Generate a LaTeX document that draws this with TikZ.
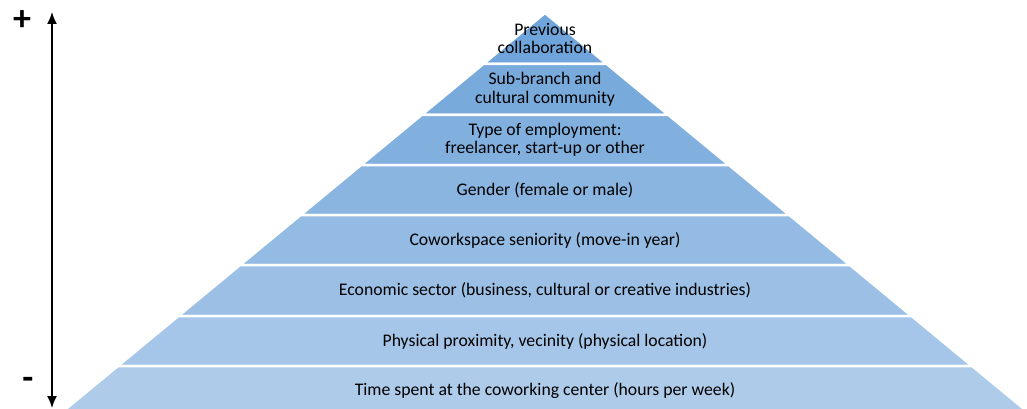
\documentclass[tikz,border=0pt]{standalone}
\usepackage{fontspec}
\setmainfont{Carlito}
\usetikzlibrary{arrows.meta}
\definecolor{bandtop}{HTML}{6FA5DA}
\definecolor{bandbot}{HTML}{AECBEA}
\tikzset{
  band/.style={draw=white, line width=2.5pt, line join=round},
  layer/.style={align=center, font=\fontsize{17.7}{18.5}\selectfont, text=black, inner sep=0pt},
  sign/.style={font=\bfseries\fontsize{36}{36}\selectfont, inner sep=0pt}
}
\begin{document}
\begin{tikzpicture}[x=1pt,y=-1pt]
  \useasboundingbox (0,0) rectangle (1027,409);
  % pyramid, layers from the top down
  \foreach \i/\ya/\yb/\txt [evaluate=\i as \pct using {100*(\i-1)/7}] in {
      1/13/64/{Previous\\collaboration},
      2/64/115/{Sub-branch and\\cultural community},
      3/115/165/{Type of employment:\\freelancer, start-up or other},
      4/165/215/{Gender (female or male)},
      5/215/265/{Coworkspace seniority (move-in year)},
      6/265/316/{Economic sector (business, cultural or creative industries)},
      7/316/366/{Physical proximity, vecinity (physical location)},
      8/366/416/{Time spent at the coworking center (hours per week)}}
  {
    \filldraw[band, fill=bandbot!\pct!bandtop]
      ({545-1.21*(\ya-13)},\ya) -- ({545+1.21*(\ya-13)},\ya)
      -- ({545+1.21*(\yb-13)},\yb) -- ({545-1.21*(\yb-13)},\yb) -- cycle;
    \node[layer] (layer\i) at (545,{(\ya+\yb)/2}) {\txt};
  }
  % importance axis
  \coordinate (hi) at (52,12);
  \coordinate (lo) at (52,408);
  \draw[line width=1.5pt, {Latex[length=12pt,width=10pt]}-{Latex[length=12pt,width=10pt]}] (hi) -- (lo);
  \node[sign] (plus) at (22,21) {+};
  \node[sign] (minus) at (28,383) {-};
\end{tikzpicture}
\end{document}
